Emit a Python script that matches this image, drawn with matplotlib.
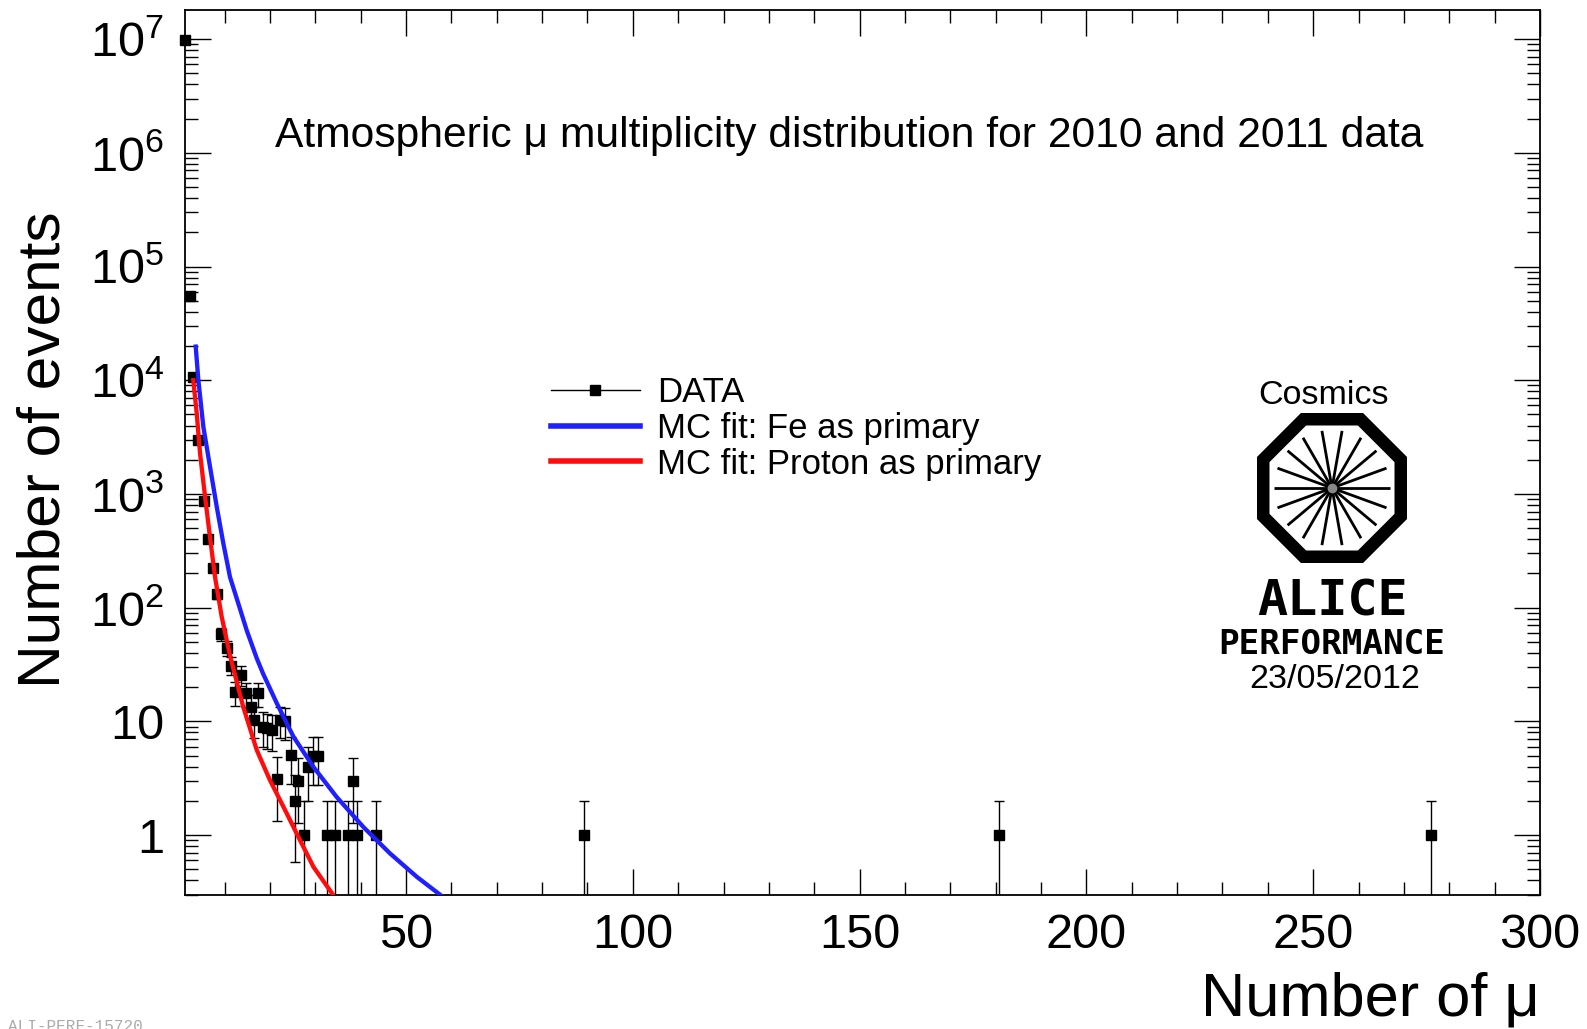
import numpy as np
import matplotlib
matplotlib.use("Agg")
import matplotlib.pyplot as plt
from matplotlib.ticker import MultipleLocator, LogLocator, FuncFormatter, NullFormatter
from matplotlib.patches import Polygon

plt.rcParams['font.family'] = ['Liberation Sans', 'DejaVu Sans']
plt.rcParams['mathtext.fontset'] = 'custom'
plt.rcParams['mathtext.rm'] = 'Liberation Sans'
plt.rcParams['mathtext.it'] = 'Liberation Sans:italic'
plt.rcParams['mathtext.bf'] = 'Liberation Sans:bold'

# measured muon multiplicity (data points)
n_mu = [1.3, 2.4, 2.97, 4.22, 5.47, 6.43, 7.53, 8.41, 9.15, 10.5, 11.4, 12.3, 13.6,
        14.7, 15.8, 16.5, 17.4, 18.4, 19.4, 20.4, 21.5, 22.3, 23.3, 24.6, 25.6,
        26.3, 27.5, 28.5, 29.6, 30.6, 32.5, 34.4, 37.3, 38.3, 39.1, 43.3,
        89.3, 180.8, 275.9]
n_events = [9.9e6, 5.5e4, 1.07e4, 3000, 870, 400, 222, 131, 59, 44, 31, 18, 25.6,
            17.7, 13.5, 10.3, 17.7, 9, 8.7, 8.4, 3.1, 10.3, 10, 5.1, 2,
            3, 1, 4, 5, 5, 1, 1, 1, 3, 1, 1,
            1, 1, 1]

# MC fit, Fe as primary
fe_x = [3.64, 4.22, 5.32, 6.79, 8.27, 9.73, 11.2, 13.0, 14.9, 17.1, 18.5, 21.5,
        25.2, 29.6, 34.7, 40.6, 46.5, 52.4, 57.5, 60.0]
fe_y = [19770, 10070, 3910, 1740, 774, 368, 186, 110, 63, 35.9, 26.3, 14.5,
        7.33, 3.98, 2.17, 1.18, 0.69, 0.43, 0.30, 0.25]

# MC fit, proton as primary
p_x = [3.11, 3.86, 4.59, 5.69, 6.79, 7.9, 9.37, 11.2, 14.1, 17.1, 20.0, 23.0,
       25.9, 29.6, 34.0, 34.5]
p_y = [10000, 5130, 2290, 955, 417, 186, 83.2, 38.0, 13.5, 5.6, 3.05, 1.77,
       1.035, 0.526, 0.296, 0.27]

x_ticks = [50, 100, 150, 200, 250, 300]

fig = plt.figure(figsize=(15.87, 10.29), dpi=100)
ax = fig.add_axes([185 / 1587, 134 / 1029, 1355 / 1587, 885 / 1029])

ax.set_yscale('log')
ax.set_xlim(1.28, 300)
ax.set_ylim(0.298, 1.8e7)

x = np.array(n_mu)
y = np.array(n_events)
err = np.sqrt(y)
ax.errorbar(x, y, yerr=err, fmt='none', ecolor='black', elinewidth=1.0,
            capsize=3.5, capthick=1.0, zorder=2)
ax.plot(x, y, 's', color='black', markersize=7, clip_on=False, zorder=3)

ax.plot(fe_x, fe_y, color='#1f1fff', lw=3.1, zorder=4)
ax.plot(p_x, p_y, color='#ff0d0d', lw=3.1, zorder=4)

# legend
h_data, = ax.plot([], [], 's-', color='black', markersize=7, lw=1.0)
h_fe, = ax.plot([], [], color='#1f1fff', lw=4)
h_p, = ax.plot([], [], color='#ff0d0d', lw=4)
leg = fig.legend([h_data, h_fe, h_p],
                 ['DATA', 'MC fit: Fe as primary', 'MC fit: Proton as primary'],
                 loc='upper left', bbox_to_anchor=(551 / 1587, 1 - 376 / 1029),
                 frameon=False, fontsize=25, handlelength=2.55, handletextpad=0.5,
                 labelspacing=0.08, borderpad=0, borderaxespad=0, markerscale=1.0)

# axes styling
ax.xaxis.set_major_locator(MultipleLocator(50))
ax.xaxis.set_minor_locator(MultipleLocator(10))
ax.set_xticks(x_ticks)
ax.yaxis.set_major_locator(LogLocator(base=10, numticks=20))
ax.yaxis.set_minor_locator(LogLocator(base=10, subs=np.arange(2, 10), numticks=20))
ax.yaxis.set_minor_formatter(NullFormatter())


def ylab(v, pos):
    n = int(round(np.log10(v)))
    if n == 0:
        return '1'
    if n == 1:
        return '10'
    return r'$10^{%d}$' % n


ax.yaxis.set_major_formatter(FuncFormatter(ylab))
ax.tick_params(which='both', direction='in', top=True, right=True, width=1.0)
ax.tick_params(which='major', length=19)
ax.tick_params(which='minor', length=9.5)
ax.tick_params(axis='x', labelsize=35, pad=13)
ax.tick_params(axis='y', labelsize=35, pad=15)
for s in ax.spines.values():
    s.set_linewidth(1.3)

ax.set_xlabel('Number of μ', fontsize=44.2, ha='right')
ax.xaxis.set_label_coords(1.0, -0.086)
ax.set_ylabel('Number of events', fontsize=43.5)
ax.yaxis.set_label_coords(-0.0838, 0.503)

ax.text(0.0666, 0.8454, 'Atmospheric μ multiplicity distribution for 2010 and 2011 data',
        transform=ax.transAxes, fontsize=30.7, ha='left', va='baseline')

# ALICE performance logo
fig.text(1324 / 1587, 1 - 395 / 1029, 'Cosmics', fontsize=24.5, ha='center', va='center')
lax = fig.add_axes([(1332 - 80) / 1587, 1 - (488 + 80) / 1029, 160 / 1587, 160 / 1029])
lax.set_xlim(-80, 80)
lax.set_ylim(-80, 80)
lax.set_aspect('equal')
lax.axis('off')
ang = np.deg2rad(22.5 + 45 * np.arange(8))
r_out = 75 / np.cos(np.deg2rad(22.5))
r_in = 62.5 / np.cos(np.deg2rad(22.5))
lax.add_patch(Polygon(np.c_[r_out * np.cos(ang), r_out * np.sin(ang)], closed=True,
                      facecolor='black', edgecolor='none'))
lax.add_patch(Polygon(np.c_[r_in * np.cos(ang), r_in * np.sin(ang)], closed=True,
                      facecolor='white', edgecolor='none'))
for a in np.deg2rad(np.arange(0, 360, 20)):
    lax.plot([0, 58 * np.cos(a)], [0, 58 * np.sin(a)], color='black', lw=2.0,
             solid_capstyle='butt')
lax.plot(0, 0, 'o', color='#888888', markersize=6)

fig.text(1332 / 1587, 1 - 601 / 1029, 'ALICE', fontsize=36, ha='center', va='center',
         family='DejaVu Sans Mono', weight='bold')
fig.text(1332 / 1587, 1 - 644 / 1029, 'PERFORMANCE', fontsize=24.7, ha='center',
         va='center', family='DejaVu Sans Mono', weight='bold')
fig.text(1335 / 1587, 1 - 680 / 1029, '23/05/2012', fontsize=24.5, ha='center', va='center')

fig.text(8 / 1587, 1 - 1019 / 1029, 'ALI-PERF-15720', fontsize=11.5, color='#aaaaaa',
         family='Liberation Mono', ha='left', va='top')

fig.savefig('out.png', dpi=100)
